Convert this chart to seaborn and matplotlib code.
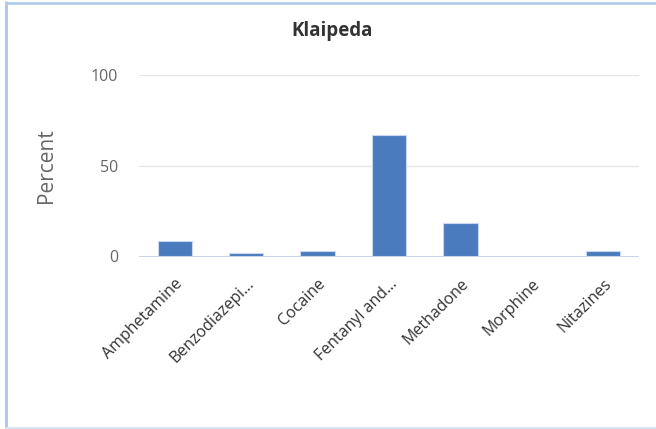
import matplotlib
matplotlib.use("Agg")
import matplotlib.pyplot as plt
from matplotlib.lines import Line2D
import seaborn as sns
import pandas as pd

categories = ["Amphetamine", "Benzodiazepi…", "Cocaine", "Fentanyl and…",
              "Methadone", "Morphine", "Nitazines"]
percent = [8.3, 1.7, 3.3, 66.7, 18.3, 0.0, 3.3]
y_ticks = [0, 50, 100]
title = "Klaipeda"
y_label = "Percent"

df = pd.DataFrame({"category": categories, "percent": percent})

sns.set_theme(style="white")
plt.rcParams["font.family"] = ["Open Sans", "DejaVu Sans"]

fig = plt.figure(figsize=(6.56, 4.29), dpi=100)
ax = fig.add_axes([139 / 656, 1 - 256.5 / 429, 500 / 656, 181.5 / 429])

sns.barplot(data=df, x="category", y="percent", ax=ax, color="#4a7bbd",
            saturation=1, width=0.48, edgecolor="#c9d8ee", linewidth=0.8,
            zorder=3)

ax.set_ylim(0, 100)
ax.set_yticks(y_ticks)
ax.set_yticklabels([str(v) for v in y_ticks], color="#666666", fontsize=11.5)
for v in y_ticks[1:]:
    ax.axhline(v, color="#e6e6e6", linewidth=1, zorder=1)
ax.axhline(0, color="#ccd6eb", linewidth=1.5, zorder=4)

for s in ax.spines.values():
    s.set_visible(False)
ax.tick_params(axis="both", length=0)
ax.tick_params(axis="y", pad=15)
ax.tick_params(axis="x", pad=14)
ax.set_xlabel("")
ax.set_ylabel(y_label, fontsize=15, color="#666666", labelpad=24)

for lbl in ax.get_xticklabels():
    lbl.set_rotation(45)
    lbl.set_ha("right")
    lbl.set_va("top")
    lbl.set_rotation_mode("anchor")
    lbl.set_fontsize(11.5)
    lbl.set_color("#333333")

fig.text(332.5 / 656, 1 - 31 / 429, title, ha="center", va="center",
         fontsize=13.5, fontweight="bold", color="#333333")

# panel border on the left, top and bottom
fig.add_artist(Line2D([6 / 656, 6 / 656], [0, 1 - 2 / 429],
                      transform=fig.transFigure, color="#a9c6e8", linewidth=2))
fig.add_artist(Line2D([6 / 656, 1], [1 - 2.5 / 429, 1 - 2.5 / 429],
                      transform=fig.transFigure, color="#b3cce9", linewidth=2))
fig.add_artist(Line2D([6 / 656, 1], [1.5 / 429, 1.5 / 429],
                      transform=fig.transFigure, color="#d6e4f5", linewidth=1.5))

fig.savefig("out.png", dpi=100)
